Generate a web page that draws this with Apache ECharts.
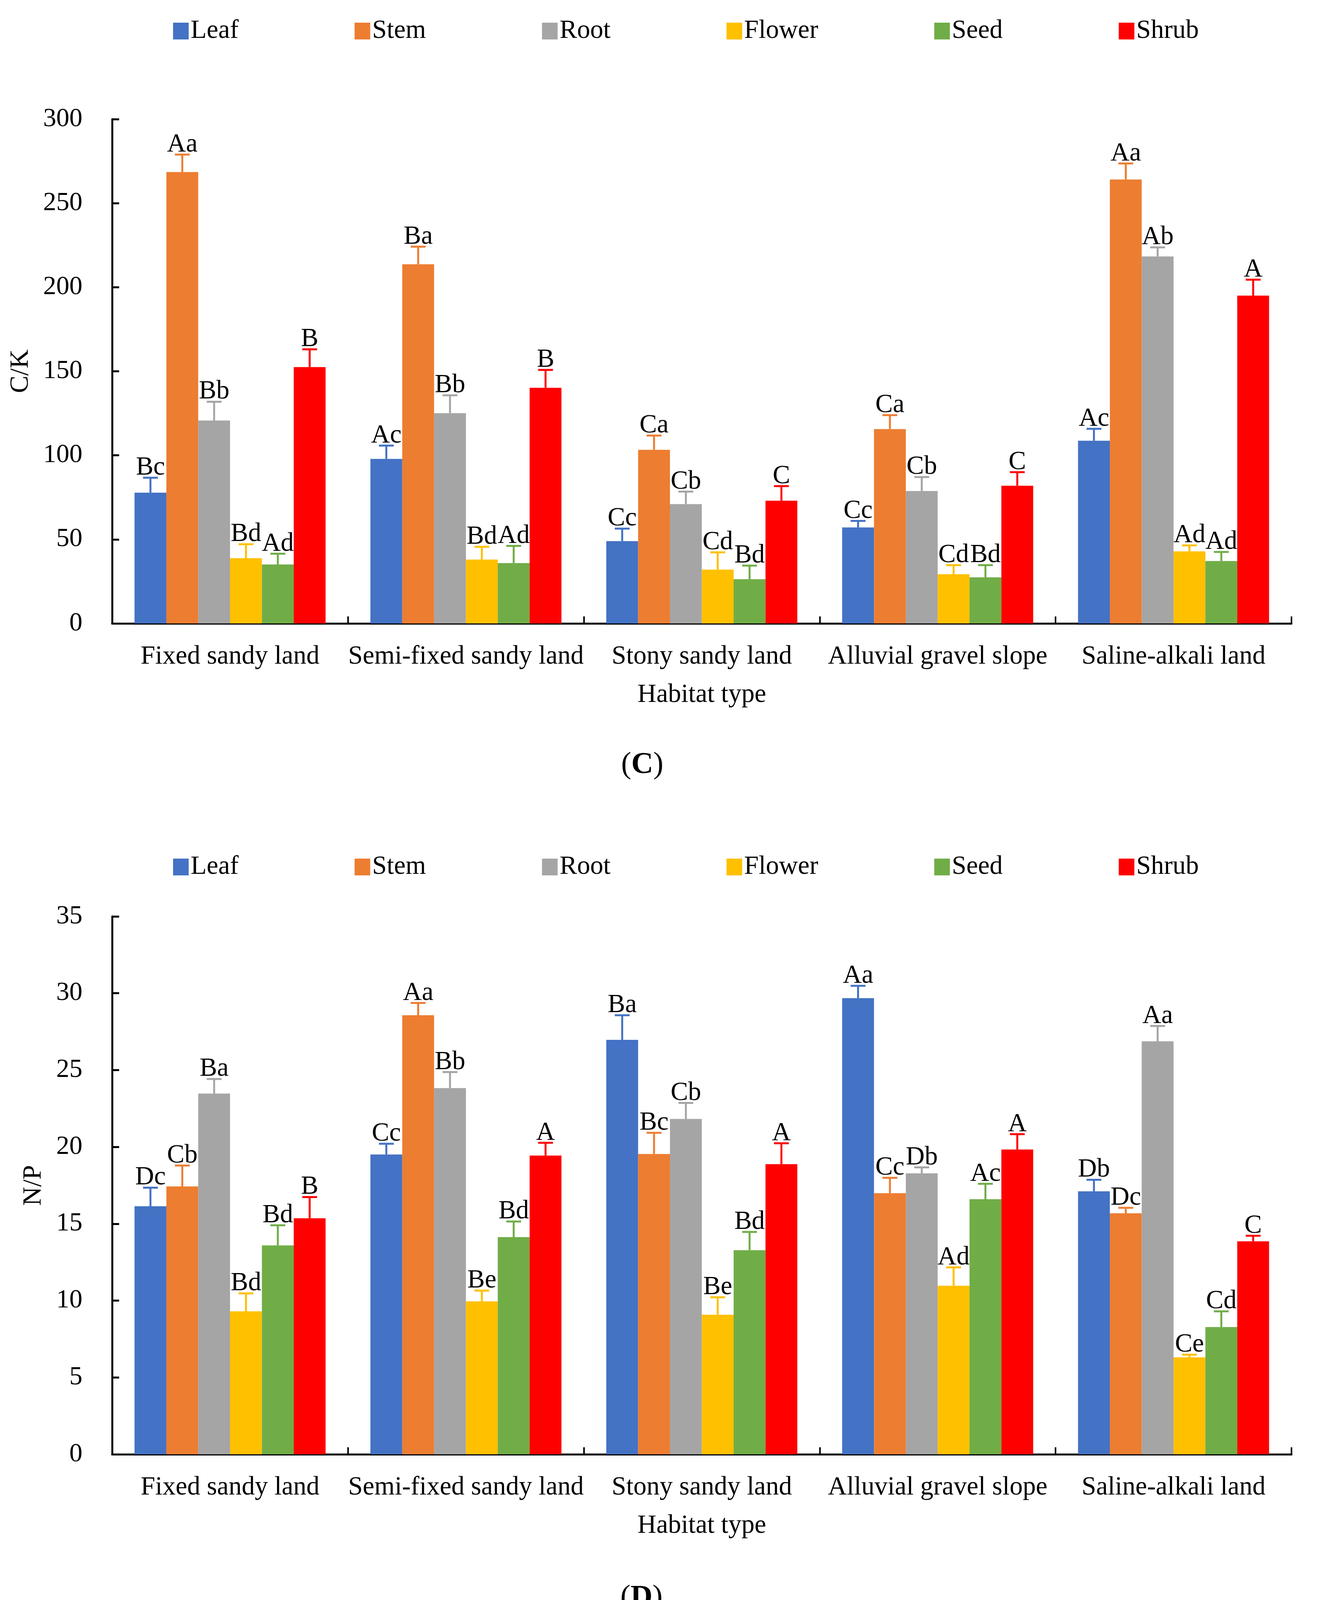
<!DOCTYPE html>
<html>
<head>
<meta charset="utf-8">
<script src="https://cdn.jsdelivr.net/npm/echarts@6/dist/echarts.min.js"></script>
<style>
html,body{margin:0;padding:0;background:#fff;}
#chart{width:3379px;height:4191px;}
</style>
</head>
<body>
<div id="chart"></div>
<script>
// ---------- data ----------
const categories = ['Fixed sandy land','Semi-fixed sandy land','Stony sandy land','Alluvial gravel slope','Saline-alkali land'];
const organs = ['Leaf','Stem','Root','Flower','Seed','Shrub'];
const colors = ['#4472C4','#ED7D31','#A5A5A5','#FFC000','#70AD47','#FF0000'];

// C/K (panel C)
const ckLeaf   = [77.8, 97.9, 49.0, 57.1, 108.7];
const ckStem   = [268.5, 213.7, 103.3, 115.6, 264.1];
const ckRoot   = [120.7, 125.1, 71.0, 78.8, 218.3];
const ckFlower = [38.8, 38.0, 32.0, 29.3, 42.9];
const ckSeed   = [35.1, 35.9, 26.3, 27.4, 37.1];
const ckShrub  = [152.5, 140.2, 73.0, 81.9, 195.0];
const ckLeafErr   = [8.9, 7.9, 7.4, 3.9, 7.1];
const ckStemErr   = [10.4, 10.4, 8.5, 8.3, 9.5];
const ckRootErr   = [11.2, 10.6, 7.4, 8.3, 5.4];
const ckFlowerErr = [8.3, 7.6, 10.3, 5.4, 3.5];
const ckSeedErr   = [6.4, 10.2, 8.1, 7.3, 5.4];
const ckShrubErr  = [10.6, 10.6, 8.7, 8.1, 9.5];
const ckLeafLbl   = ['Bc','Ac','Cc','Cc','Ac'];
const ckStemLbl   = ['Aa','Ba','Ca','Ca','Aa'];
const ckRootLbl   = ['Bb','Bb','Cb','Cb','Ab'];
const ckFlowerLbl = ['Bd','Bd','Cd','Cd','Ad'];
const ckSeedLbl   = ['Ad','Ad','Bd','Bd','Ad'];
const ckShrubLbl  = ['B','B','C','C','A'];

// N/P (panel D)
const npLeaf   = [16.14, 19.51, 26.97, 29.68, 17.11];
const npStem   = [17.43, 28.57, 19.54, 16.99, 15.68];
const npRoot   = [23.47, 23.83, 21.82, 18.28, 26.87];
const npFlower = [9.30, 9.95, 9.08, 10.97, 6.31];
const npSeed   = [13.59, 14.13, 13.28, 16.60, 8.28];
const npShrub  = [15.36, 19.44, 18.88, 19.83, 13.86];
const npLeafErr   = [1.21, 0.70, 1.60, 0.80, 0.75];
const npStemErr   = [1.36, 0.80, 1.38, 1.00, 0.36];
const npRootErr   = [0.95, 1.04, 1.04, 0.39, 1.00];
const npFlowerErr = [1.17, 0.70, 1.14, 1.19, 0.17];
const npSeedErr   = [1.31, 1.02, 1.19, 1.00, 1.02];
const npShrubErr  = [1.38, 0.83, 1.36, 1.00, 0.36];
const npLeafLbl   = ['Dc','Cc','Ba','Aa','Db'];
const npStemLbl   = ['Cb','Aa','Bc','Cc','Dc'];
const npRootLbl   = ['Ba','Bb','Cb','Db','Aa'];
const npFlowerLbl = ['Bd','Be','Be','Ad','Ce'];
const npSeedLbl   = ['Bd','Bd','Bd','Ac','Cd'];
const npShrubLbl  = ['B','A','A','A','C'];

const ckVals = [ckLeaf, ckStem, ckRoot, ckFlower, ckSeed, ckShrub];
const ckErrs = [ckLeafErr, ckStemErr, ckRootErr, ckFlowerErr, ckSeedErr, ckShrubErr];
const ckLbls = [ckLeafLbl, ckStemLbl, ckRootLbl, ckFlowerLbl, ckSeedLbl, ckShrubLbl];
const npVals = [npLeaf, npStem, npRoot, npFlower, npSeed, npShrub];
const npErrs = [npLeafErr, npStemErr, npRootErr, npFlowerErr, npSeedErr, npShrubErr];
const npLbls = [npLeafLbl, npStemLbl, npRootLbl, npFlowerLbl, npSeedLbl, npShrubLbl];

// ---------- style ----------
const FONT = '"Liberation Serif","Times New Roman",serif';
const FS = 67;
const CAT_GAP = 0.19;
const nBars = organs.length;

function buildPanel(vals, errs, lbls, axisIdx){
  const out = [];
  organs.forEach((name, i) => {
    out.push({
      type:'bar', name:name, xAxisIndex:axisIdx, yAxisIndex:axisIdx,
      data: vals[i], barGap:'0%', barCategoryGap:(CAT_GAP*100)+'%',
      itemStyle:{color:colors[i]}, z:2
    });
  });
  organs.forEach((name, i) => {
    const labels = lbls[i];
    out.push({
      type:'custom', name:name, xAxisIndex:axisIdx, yAxisIndex:axisIdx,
      itemStyle:{color:colors[i]}, z:5,
      data: vals[i].map((v, c) => [c, v, errs[i][c]]),
      encode:{x:0, y:1},
      renderItem: function(params, api){
        const c = api.value(0), v = api.value(1), e = api.value(2);
        const base = api.coord([c, v]);
        const top = api.coord([c, v + e]);
        const band = api.size([1, 0])[0];
        const bw = band * (1 - CAT_GAP) / nBars;
        const x = base[0] + (i - (nBars - 1) / 2) * bw;
        const col = colors[i];
        const half = 19;
        return {
          type:'group',
          children:[
            {type:'line', shape:{x1:x, y1:base[1], x2:x, y2:top[1]}, style:{stroke:col, lineWidth:5}},
            {type:'line', shape:{x1:x-half, y1:top[1], x2:x+half, y2:top[1]}, style:{stroke:col, lineWidth:5}},
            {type:'text', style:{text:labels[params.dataIndex], x:x, y:top[1]+8, align:'center', verticalAlign:'bottom',
              fontSize:FS, fontFamily:FONT, fill:'#000'}}
          ]
        };
      }
    });
  });
  return out;
}

function xAxisCfg(gridIndex){
  return {
    type:'category', gridIndex:gridIndex, data:categories,
    name:'Habitat type', nameLocation:'middle', nameGap:150,
    nameTextStyle:{fontSize:FS, fontFamily:FONT, color:'#000'},
    axisLine:{lineStyle:{color:'#000', width:5}},
    axisTick:{show:true, inside:true, length:18, lineStyle:{color:'#000', width:4}},
    axisLabel:{fontSize:FS, fontFamily:FONT, color:'#000', margin:52, interval:0},
    splitLine:{show:false}
  };
}
function yAxisCfg(gridIndex, name, max, interval, gap){
  return {
    type:'value', gridIndex:gridIndex, min:0, max:max, interval:interval,
    name:name, nameLocation:'middle', nameGap:gap, nameRotate:90,
    nameTextStyle:{fontSize:FS, fontFamily:FONT, color:'#000'},
    axisLine:{show:true, lineStyle:{color:'#000', width:5}},
    axisTick:{show:true, inside:true, length:18, lineStyle:{color:'#000', width:5}},
    axisLabel:{fontSize:FS, fontFamily:FONT, color:'#000', margin:76},
    splitLine:{show:false}
  };
}
function legendCfg(top){
  return {
    data: organs, left:443, top:top, padding:0, itemGap:297,
    itemWidth:40, itemHeight:43, icon:'rect',
    textStyle:{fontSize:FS, fontFamily:FONT, color:'#000'},
    selectedMode:false
  };
}

const chart = echarts.init(document.getElementById('chart'), null, {renderer:'canvas'});
chart.setOption({
  backgroundColor:'#fff',
  animation:false,
  legend:[legendCfg(46), legendCfg(2186)],
  grid:[
    {left:287, top:305, width:3019, height:1291},
    {left:287, top:2346, width:3019, height:1377}
  ],
  xAxis:[xAxisCfg(0), xAxisCfg(1)],
  yAxis:[yAxisCfg(0, 'C/K', 300, 50, 200), yAxisCfg(1, 'N/P', 35, 5, 167)],
  graphic:[
    {type:'text', left:1634-44, top:1964-44, style:{
      text:'{n|(}{b|C}{n|)}', rich:{n:{fontSize:78, fontFamily:FONT, fill:'#000'}, b:{fontSize:78, fontFamily:FONT, fontWeight:'bold', fill:'#000'}}}},
    {type:'text', left:1634-46, top:4096-44, style:{
      text:'{n|(}{b|D}{n|)}', rich:{n:{fontSize:78, fontFamily:FONT, fill:'#000'}, b:{fontSize:78, fontFamily:FONT, fontWeight:'bold', fill:'#000'}}}}
  ],
  series: buildPanel(ckVals, ckErrs, ckLbls, 0).concat(buildPanel(npVals, npErrs, npLbls, 1))
});
</script>
</body>
</html>
